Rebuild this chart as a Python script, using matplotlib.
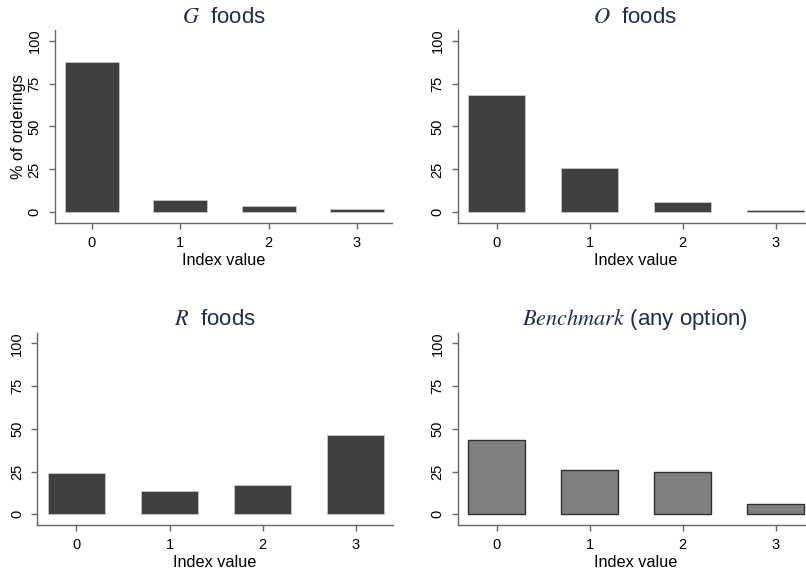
import matplotlib
matplotlib.use("Agg")
import matplotlib.pyplot as plt

plt.rcParams['font.family'] = ['Liberation Sans', 'DejaVu Sans']
plt.rcParams['mathtext.fontset'] = 'stix'

index_values = [0, 1, 2, 3]
g_foods = [87.8, 7.3, 3.9, 1.9]
o_foods = [68.4, 26.0, 5.8, 1.2]
r_foods = [24.2, 13.4, 17.1, 46.4]
benchmark = [43.5, 26.1, 24.6, 5.8]

titles = [r"$G$  foods", r"$O$  foods", r"$R$  foods", r"$Benchmark$ (any option)"]
series = [g_foods, o_foods, r_foods, benchmark]

W, H = 806, 571
fig = plt.figure(figsize=(W / 100, H / 100), dpi=100)

# pixel layout per panel: (x of tick 0, tick spacing, y of 0, px per unit)
layout = [
    (92.0, 88.3, 212.3, 1.716),
    (496.7, 93.0, 212.3, 1.716),
    (76.3, 93.2, 514.3, 1.71),
    (496.7, 93.0, 514.3, 1.71),
]
xlo, xhi = -0.42, 3.40
ylo, yhi = -6.2, 106

title_col = '#1e2c50'
axis_col = '#666666'

for i, (x0, sp, y0, sc) in enumerate(layout):
    left = x0 + xlo * sp
    width = (xhi - xlo) * sp
    bottom = y0 - ylo * sc
    top = y0 - yhi * sc
    ax = fig.add_axes([left / W, 1 - bottom / H, width / W, (bottom - top) / H])
    if i == 3:
        ax.bar(index_values, series[i], width=0.61, color='#808080',
               edgecolor='#303030', linewidth=1.0)
    else:
        ax.bar(index_values, series[i], width=0.61, color='#404040',
               edgecolor='#c8c8c8', linewidth=0.6)
    ax.set_xlim(xlo, xhi)
    ax.set_ylim(ylo, yhi)
    ax.set_xticks(index_values)
    ax.set_yticks([0, 25, 50, 75, 100])
    ax.set_yticklabels(['0', '25', '50', '75', '100'], rotation=90, va='center')
    for s in ['top', 'right']:
        ax.spines[s].set_visible(False)
    for s in ['left', 'bottom']:
        ax.spines[s].set_color(axis_col)
        ax.spines[s].set_linewidth(1.0)
    ax.tick_params(colors=axis_col, labelcolor='black', labelsize=10.5,
                   length=4.5, width=1.0, pad=5)
    ax.set_xlabel("Index value", fontsize=11.7, labelpad=2)
    ax.set_title(titles[i], fontsize=16, color=title_col, pad=5.5)
    if i == 0:
        ax.set_ylabel("% of orderings", fontsize=11.7, labelpad=1)

fig.savefig("out.png", dpi=100)
